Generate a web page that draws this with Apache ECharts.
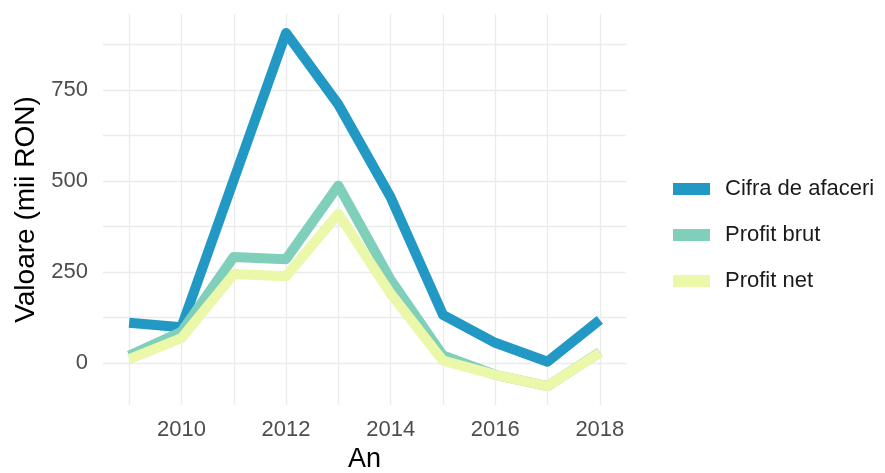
<!DOCTYPE html>
<html>
<head>
<meta charset="utf-8">
<script src="https://cdn.jsdelivr.net/npm/echarts@6/dist/echarts.min.js"></script>
<style>html,body{margin:0;padding:0;background:#fff}#c{width:885px;height:473px}</style>
</head>
<body>
<div id="c"></div>
<script>
const years = [2009, 2010, 2011, 2012, 2013, 2014, 2015, 2016, 2017, 2018];
const cifraAfaceri = [110, 98, 503, 907, 710, 455, 132, 55, 3, 118];
const profitBrut = [20, 85, 291, 285, 487, 228, 20, -33, -64, 29];
const profitNet = [10, 68, 244, 238, 410, 190, 6, -33, -64, 28];
const seriesNames = ['Cifra de afaceri', 'Profit brut', 'Profit net'];
const xTickLabels = [2010, 2012, 2014, 2016, 2018];
const xGridValues = [2009, 2010, 2011, 2012, 2013, 2014, 2015, 2016, 2017, 2018];
const yTickLabels = [0, 250, 500, 750];
const yGridValues = [0, 125, 250, 375, 500, 625, 750, 875];

const colors = ['#2298c5', '#7fcfbb', '#ebf7a9'];
const font = 'Liberation Sans, Arial, sans-serif';
const pair = (vals) => years.map((y, i) => [y, vals[i]]);

const chart = echarts.init(document.getElementById('c'));
chart.setOption({
  animation: false,
  backgroundColor: '#fff',
  grid: { left: 103, right: 259, top: 14, bottom: 68, containLabel: false, outerBoundsMode: 'none' },
  xAxis: {
    type: 'value', min: 2008.5, max: 2018.5,
    name: 'An', nameLocation: 'middle', nameGap: 39,
    nameTextStyle: { color: '#000', fontSize: 27, fontFamily: font },
    axisLine: { show: false },
    axisTick: { show: false, customValues: xGridValues },
    axisLabel: { customValues: xTickLabels, color: '#4d4d4d', fontSize: 22, fontFamily: font, margin: 14, formatter: (v) => String(v) },
    splitLine: { show: true, lineStyle: { color: '#ebebeb', width: 1.3 } }
  },
  yAxis: {
    type: 'value', min: -116, max: 959,
    name: 'Valoare (mii RON)', nameLocation: 'middle', nameGap: 62,
    nameTextStyle: { color: '#000', fontSize: 28, fontFamily: font },
    axisLine: { show: false },
    axisTick: { show: false, customValues: yGridValues },
    axisLabel: { customValues: yTickLabels, color: '#4d4d4d', fontSize: 22, fontFamily: font, margin: 15, formatter: (v) => String(v) },
    splitLine: { show: true, lineStyle: { color: '#ebebeb', width: 1.3 } }
  },
  legend: {
    orient: 'vertical', left: 668, top: 173,
    icon: 'rect', itemWidth: 37, itemHeight: 12, itemGap: 24,
    textStyle: { color: '#1a1a1a', fontSize: 22, fontFamily: font, padding: [0, 0, 0, 10] },
    data: seriesNames
  },
  series: [
    { name: seriesNames[0], data: pair(cifraAfaceri) },
    { name: seriesNames[1], data: pair(profitBrut) },
    { name: seriesNames[2], data: pair(profitNet) }
  ].map((s, i) => Object.assign(s, {
    type: 'line', showSymbol: false, symbol: 'none',
    color: colors[i],
    itemStyle: { color: colors[i] },
    lineStyle: { color: colors[i], width: 10, join: 'round', cap: 'butt' }
  }))
});
</script>
</body>
</html>
